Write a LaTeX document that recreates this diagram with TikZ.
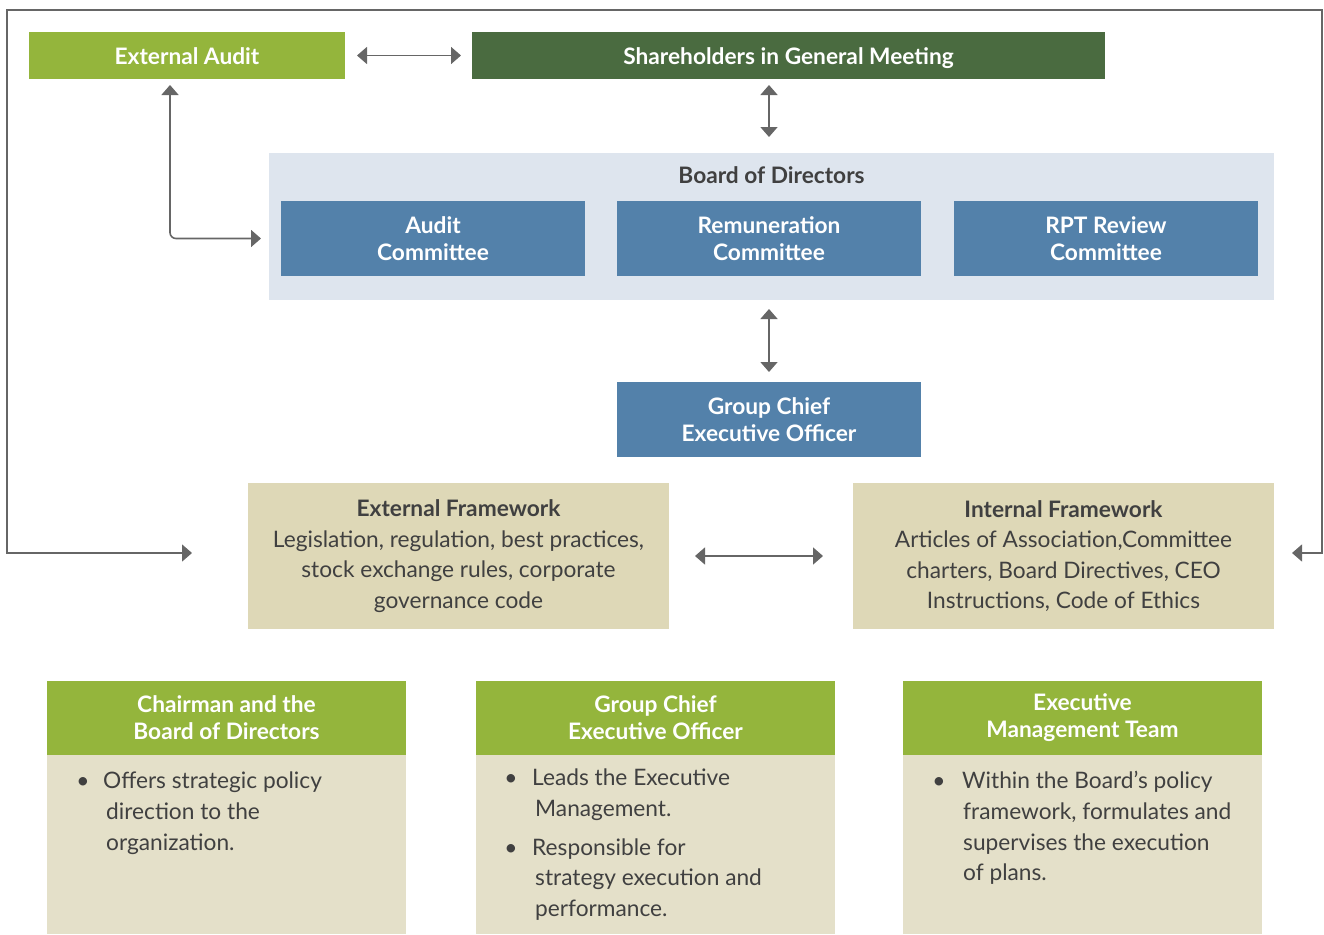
\documentclass[tikz,border=0pt]{standalone}
\usepackage{fontspec}
\setmainfont{Lato}
\usetikzlibrary{arrows.meta}
\definecolor{lgreen}{HTML}{94B53C}
\definecolor{dgreen}{HTML}{4A6B40}
\definecolor{cblue}{HTML}{5381AA}
\definecolor{boardbg}{HTML}{DEE5EE}
\definecolor{fwbg}{HTML}{DED8B7}
\definecolor{bodybg}{HTML}{E4E0C9}
\definecolor{arrgray}{HTML}{666666}
\definecolor{txtgray}{HTML}{404040}
\begin{document}
\begin{tikzpicture}[x=1pt,y=-1pt,
  box/.style={inner sep=0pt, outer sep=0pt, align=center, text=white,
    font=\fontsize{22.7}{27}\selectfont\bfseries},
  oneline/.style={text height=19pt, text depth=2pt},
  fw/.style={inner sep=0pt, outer sep=0pt, align=center, fill=fwbg, text=txtgray,
    font=\fontsize{22.7}{30.5}\selectfont},
  bodybox/.style={inner sep=0pt, outer sep=0pt, fill=bodybg},
  btxt/.style={anchor=base west, inner sep=0pt, text=txtgray, font=\fontsize{22.7}{31}\selectfont},
  arr/.style={draw=arrgray, line width=1.6pt,
    {Triangle[length=10pt,width=17pt]}-{Triangle[length=10pt,width=17pt]}}
]
\useasboundingbox (0,0) rectangle (1324,934);

% top row
\node[box, oneline, fill=lgreen, minimum width=316pt, minimum height=47pt] (ea) at (187,55.5) {External Audit};
\node[box, oneline, fill=dgreen, minimum width=633pt, minimum height=47pt] (sh) at (788.5,55.5) {Shareholders in General Meeting};

% board
\node[inner sep=0pt, outer sep=0pt, fill=boardbg, minimum width=1005pt, minimum height=147pt] (board) at (771.5,226.5) {};
\node[inner sep=0pt, text=txtgray, font=\fontsize{22.7}{27}\selectfont\bfseries] (bt) at (771.5,175) {Board of Directors};
\node[box, fill=cblue, minimum width=304pt, minimum height=75pt] (ac) at (433,238.5) {Audit\\Committee};
\node[box, fill=cblue, minimum width=304pt, minimum height=75pt] (rc) at (769,238.5) {Remuneration\\Committee};
\node[box, fill=cblue, minimum width=304pt, minimum height=75pt] (rpt) at (1106,238.5) {RPT Review\\Committee};

% GCEO
\node[box, fill=cblue, minimum width=304pt, minimum height=75pt] (gceo) at (769,419.5) {Group Chief\\Executive Officer};

% frameworks
\node[fw, minimum width=421pt, minimum height=146pt] (ef) at (458.5,556) {\textbf{External Framework}\\Legislation, regulation, best practices,\\stock exchange rules, corporate\\governance code};
\node[fw, minimum width=421pt, minimum height=146pt] (if) at (1063.5,556) {\textbf{Internal Framework}\\Articles of Association,Committee\\charters, Board Directives, CEO\\Instructions, Code of Ethics};

% connectors
\draw[arr] ([xshift=12pt]ea.east) -- ([xshift=-11pt]sh.west);
\draw[arr] ([yshift=-6pt]sh.south -| rc.center) -- ([yshift=16pt]board.north -| rc.center);
\draw[arr, rounded corners=6pt] ([xshift=-17pt,yshift=-6pt]ea.south) |- ([xshift=-20pt]ac.west);
\draw[arr] ([yshift=-9pt]board.south -| gceo.center) -- ([yshift=10pt]gceo.north);
\draw[arr] ([xshift=26pt]ef.east) -- ([xshift=-30pt]if.west);
\coordinate (ol) at (7,553);
\coordinate (or) at (1322,553);
\coordinate (tl) at (7,10);
\coordinate (tr) at (1322,10);
\draw[arr, line width=1.4pt] ([xshift=-56pt]ef.west |- ol) -- (ol) -- (tl) -- (tr) -- (or) -- ([xshift=18pt]if.east |- or);

% bottom boxes
\node[bodybox, minimum width=359pt, minimum height=179pt] (b1) at (226.5,844.5) {};
\node[bodybox, minimum width=359pt, minimum height=179pt] (b2) at (655.5,844.5) {};
\node[bodybox, minimum width=359pt, minimum height=179pt] (b3) at (1082.5,844.5) {};
\node[box, fill=lgreen, minimum width=359pt, minimum height=74pt] (h1) at (226.5,718) {Chairman and the\\Board of Directors};
\node[box, fill=lgreen, minimum width=359pt, minimum height=74pt] (h2) at (655.5,718) {Group Chief\\Executive Officer};
\node[box, fill=lgreen, minimum width=359pt, minimum height=74pt] (h3) at (1082.5,718) {Executive\\Management Team};

% body texts box 1
\node[btxt, anchor=base] (b1d1) at (83,788) {\textbullet};
\node[btxt] (b1l1) at (103,788) {Offers strategic policy};
\node[btxt] (b1l2) at (106,819) {direction to the};
\node[btxt] (b1l3) at (106,850) {organization.};

% body texts box 2
\node[btxt, anchor=base] (b2d1) at (511,785) {\textbullet};
\node[btxt] (b2l1) at (532,785) {Leads the Executive};
\node[btxt] (b2l2) at (535,816) {Management.};
\node[btxt, anchor=base] (b2d2) at (511,855) {\textbullet};
\node[btxt] (b2l3) at (532,855) {Responsible for};
\node[btxt] (b2l4) at (535,885) {strategy execution and};
\node[btxt] (b2l5) at (535,916) {performance.};

% body texts box 3
\node[btxt, anchor=base] (b3d1) at (939,788) {\textbullet};
\node[btxt] (b3l1) at (962,788) {Within the Board’s policy};
\node[btxt] (b3l2) at (963,819) {framework, formulates and};
\node[btxt] (b3l3) at (963,850) {supervises the execution};
\node[btxt] (b3l4) at (963,880) {of plans.};
\end{tikzpicture}
\end{document}
